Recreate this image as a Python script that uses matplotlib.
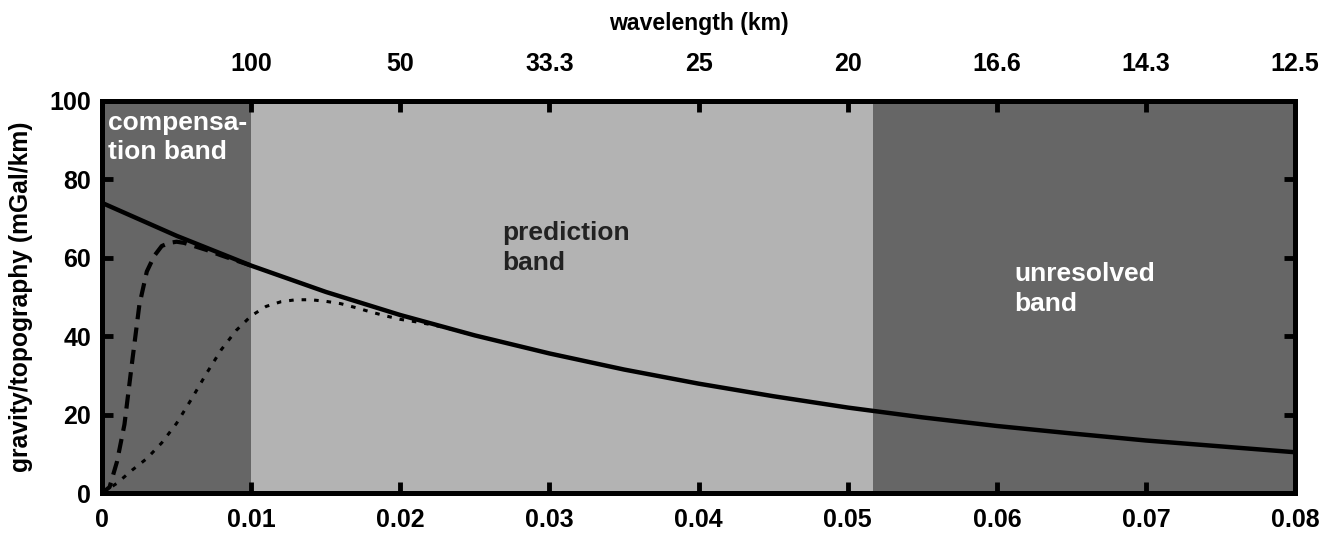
import numpy as np
import matplotlib.pyplot as plt

plt.rcParams['font.family'] = ['Liberation Sans', 'DejaVu Sans']
plt.rcParams['font.weight'] = 'bold'

# wavenumber (1/km) and admittance-style ratio (mGal/km)
k_full = [0.0, 0.005, 0.01, 0.015, 0.02, 0.025, 0.03, 0.035, 0.04,
          0.045, 0.05, 0.055, 0.06, 0.065, 0.07, 0.075, 0.08]
g_full = [74.0, 65.6, 58.0, 51.3, 45.4, 40.2, 35.6, 31.5, 27.9,
          24.7, 21.8, 19.3, 17.1, 15.2, 13.4, 11.9, 10.4]

k_dash = [0.0, 0.0005, 0.001, 0.0015, 0.002, 0.0025, 0.003, 0.0035,
          0.004, 0.0045, 0.005, 0.0055, 0.006, 0.0065, 0.007, 0.008,
          0.009, 0.01]
g_dash = [0.0, 1.5, 8.0, 17.5, 33.0, 48.0, 56.5, 60.5,
          63.0, 63.8, 64.1, 63.8, 63.2, 62.6, 62.0, 60.6,
          59.3, 58.0]

k_dot = [0.0, 0.001, 0.002, 0.003, 0.004, 0.005, 0.006, 0.007, 0.008,
         0.009, 0.010, 0.011, 0.012, 0.013, 0.014, 0.015, 0.016, 0.017,
         0.018, 0.019, 0.020, 0.021, 0.022, 0.023, 0.024, 0.025]
g_dot = [0.0, 2.5, 5.8, 8.8, 12.8, 17.8, 24.0, 30.5, 36.6,
         41.5, 45.2, 47.6, 48.8, 49.3, 49.3, 48.9, 48.3, 47.3,
         46.2, 45.2, 44.3, 43.7, 43.0, 42.2, 41.2, 40.2]

# band limits
comp_edge = 0.01
resolve_edge = 0.0517

xticks = [0, 0.01, 0.02, 0.03, 0.04, 0.05, 0.06, 0.07, 0.08]
xlabels = ['0', '0.01', '0.02', '0.03', '0.04', '0.05', '0.06', '0.07', '0.08']
wl_ticks = [0.01, 0.02, 0.03, 0.04, 0.05, 0.06, 0.07, 0.08]
wl_labels = ['100', '50', '33.3', '25', '20', '16.6', '14.3', '12.5']

fig = plt.figure(figsize=(13.31, 5.4), dpi=100)
ax = fig.add_axes([0.0767, 0.087, 0.8963, 0.726])

ax.axvspan(0, comp_edge, color='#666666', lw=0, zorder=0)
ax.axvspan(comp_edge, resolve_edge, color='#b3b3b3', lw=0, zorder=0)
ax.axvspan(resolve_edge, 0.08, color='#666666', lw=0, zorder=0)

ax.plot(k_full, g_full, color='black', lw=3.2, solid_capstyle='butt', zorder=3)
ax.plot(k_dash, g_dash, color='black', lw=3.0, dashes=(3.4, 2.0), zorder=2)
ax.plot(k_dot, g_dot, color='black', lw=2.2, dashes=(1.5, 2.6), zorder=2)

ax.text(0.0004, 97.5, 'compensa-\ntion band', color='white', fontsize=19,
        fontweight='bold', va='top', ha='left', linespacing=1.3)
ax.text(0.0268, 62.5, 'prediction\nband', color='#222222', fontsize=19,
        fontweight='bold', va='center', ha='left', linespacing=1.35)
ax.text(0.0612, 52.0, 'unresolved\nband', color='white', fontsize=19,
        fontweight='bold', va='center', ha='left', linespacing=1.3)

ax.set_xlim(0, 0.08)
ax.set_ylim(0, 100)
ax.set_xticks(xticks)
ax.set_xticklabels(xlabels)
ax.set_yticks([0, 20, 40, 60, 80, 100])
ax.tick_params(direction='in', length=8, width=3.5, labelsize=18,
               top=True, right=True)
ax.tick_params(axis='x', pad=11)
ax.tick_params(axis='y', pad=8)
for s in ax.spines.values():
    s.set_linewidth(3.6)
ax.set_ylabel('gravity/topography (mGal/km)', fontsize=17.7, fontweight='bold',
              labelpad=12)

ax2 = ax.twiny()
ax2.set_xlim(ax.get_xlim())
ax2.set_xticks(wl_ticks)
ax2.set_xticklabels(wl_labels)
ax2.tick_params(direction='in', length=8, width=3.5, labelsize=18, pad=18)
ax2.set_xlabel('wavelength (km)', fontsize=16.6, fontweight='bold', labelpad=16)

plt.savefig('out.png', dpi=100)
